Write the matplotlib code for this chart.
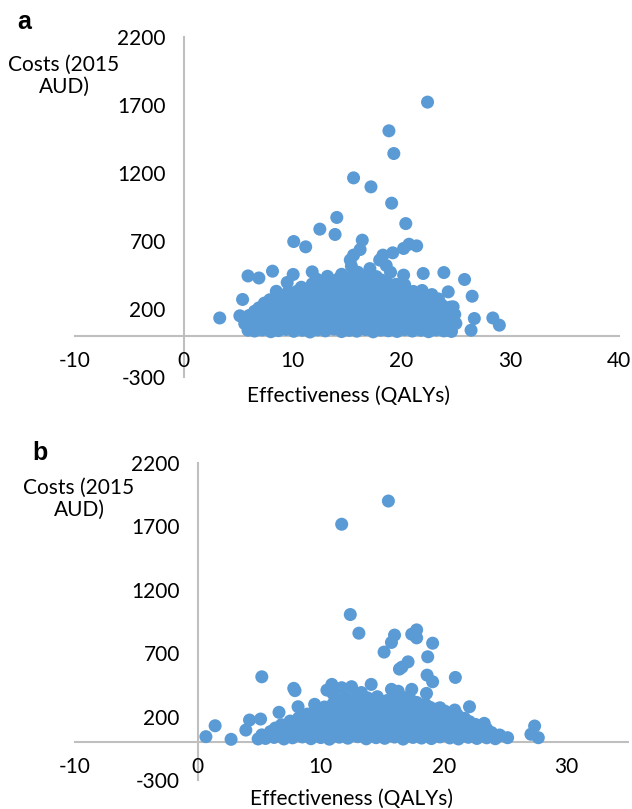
import matplotlib
matplotlib.use("Agg")
import matplotlib.pyplot as plt

plt.rcParams['font.family'] = ['Lato', 'DejaVu Sans']
plt.rcParams['axes.unicode_minus'] = False

dot_color = "#5B9BD5"
axis_color = "#BFBFBF"

# ---------- panel a : (QALYs, cost) ----------
a_outliers = [
    (22.4, 1721), (18.85, 1510), (19.3, 1343), (15.6, 1164), (17.2, 1098),
    (19.1, 978), (14.06, 873), (20.4, 828), (12.5, 787), (13.9, 748),
    (10.1, 696), (11.2, 657), (16.4, 706), (16.2, 637), (15.6, 596),
    (15.3, 560), (18.3, 596), (19.2, 613), (20.2, 645), (20.7, 676),
    (21.4, 664), (18.0, 560), (18.6, 520), (17.1, 497), (15.4, 515),
    (16.0, 470), (3.3, 134), (5.9, 443), (6.9, 428), (8.15, 478),
    (10.05, 454), (9.5, 395), (11.8, 473), (22.0, 461), (23.9, 468),
    (25.8, 417), (26.5, 294), (22.8, 306), (28.4, 134), (29.0, 81),
    (26.7, 130), (26.4, 44), (5.4, 270), (5.15, 150), (5.9, 44),
    (8.5, 330), (10.4, 330), (20.2, 449), (24.3, 326), (24.75, 216),
    (24.6, 35), (13.2, 440), (14.5, 455), (19.0, 470), (12.2, 420),
]
a_cloud = [
    (6.5, 38), (7.2, 46), (8.0, 33), (8.7, 41), (9.4, 50), (10.1, 36), (10.9, 44),
    (11.6, 31), (12.3, 47), (13.0, 39), (13.8, 52), (14.5, 34), (15.2, 43), (15.9, 37),
    (16.7, 49), (17.4, 32), (18.1, 45), (18.8, 40), (19.6, 35), (20.3, 48), (21.0, 38),
    (21.8, 44), (22.5, 33), (23.2, 46), (23.9, 39), (24.4, 42),
    (6.2, 64), (6.9, 70), (7.6, 61), (8.4, 68), (9.1, 72), (9.8, 63), (10.6, 69),
    (11.3, 60), (12.0, 71), (12.8, 65), (13.5, 73), (14.2, 62), (15.0, 67), (15.7, 70),
    (16.4, 61), (17.2, 68), (17.9, 64), (18.6, 72), (19.4, 66), (20.1, 60), (20.8, 69),
    (21.6, 63), (22.3, 71), (23.0, 65), (23.8, 62), (24.6, 68),
    (5.6, 92), (6.3, 101), (7.0, 88), (7.8, 97), (8.5, 105), (9.2, 90), (10.0, 99),
    (10.7, 86), (11.4, 103), (12.1, 94), (12.9, 108), (13.6, 89), (14.3, 98), (15.0, 104),
    (15.8, 91), (16.5, 100), (17.2, 87), (17.9, 106), (18.7, 95), (19.4, 102), (20.1, 89),
    (20.8, 97), (21.6, 104), (22.3, 92), (23.0, 99), (23.7, 88), (24.4, 101), (25.0, 94),
    (5.9, 124), (6.6, 131), (7.4, 120), (8.1, 128), (8.8, 133), (9.6, 122), (10.3, 127),
    (11.0, 119), (11.8, 130), (12.5, 125), (13.2, 134), (14.0, 121), (14.7, 129), (15.4, 132),
    (16.2, 123), (16.9, 128), (17.6, 120), (18.4, 131), (19.1, 126), (19.8, 133), (20.6, 122),
    (21.3, 129), (22.0, 124), (22.8, 130), (23.5, 121), (24.2, 127),
    (6.0, 152), (6.8, 160), (7.5, 147), (8.3, 158), (9.0, 163), (9.7, 149), (10.5, 156),
    (11.2, 165), (11.9, 151), (12.7, 159), (13.4, 146), (14.1, 162), (14.9, 154), (15.6, 168),
    (16.3, 150), (17.0, 157), (17.8, 144), (18.5, 161), (19.2, 153), (20.0, 166), (20.7, 148),
    (21.4, 155), (22.2, 163), (22.9, 150), (23.6, 158), (24.3, 146), (24.9, 160),
    (6.5, 183), (7.3, 190), (8.0, 180), (8.8, 188), (9.5, 193), (10.2, 182), (11.0, 189),
    (11.7, 178), (12.4, 191), (13.2, 185), (13.9, 194), (14.6, 181), (15.4, 187), (16.1, 192),
    (16.8, 179), (17.6, 186), (18.3, 190), (19.0, 183), (19.8, 188), (20.5, 181), (21.2, 192),
    (22.0, 184), (22.7, 189), (23.4, 180), (24.1, 186),
    (6.9, 208), (7.7, 219), (8.4, 212), (9.1, 224), (9.9, 206), (10.6, 217), (11.3, 228),
    (12.1, 210), (12.8, 221), (13.5, 205), (14.3, 226), (15.0, 214), (15.7, 230), (16.5, 209),
    (17.2, 220), (17.9, 212), (18.7, 227), (19.4, 207), (20.1, 218), (20.9, 224), (21.6, 211),
    (22.3, 219), (23.1, 206), (23.8, 222), (24.5, 214),
    (7.4, 243), (8.2, 250), (8.9, 240), (9.7, 248), (10.4, 253), (11.1, 242), (11.9, 249),
    (12.6, 238), (13.3, 251), (14.1, 245), (14.8, 254), (15.5, 241), (16.3, 247), (17.0, 252),
    (17.7, 239), (18.5, 246), (19.2, 250), (19.9, 243), (20.7, 248), (21.4, 240), (22.1, 251),
    (22.9, 244), (23.6, 238),
    (7.9, 268), (8.7, 279), (9.4, 272), (10.2, 285), (10.9, 266), (11.6, 281), (12.4, 274),
    (13.1, 288), (13.8, 270), (14.6, 283), (15.3, 276), (16.0, 290), (16.8, 269), (17.5, 282),
    (18.2, 273), (19.0, 286), (19.7, 267), (20.4, 280), (21.2, 271), (21.9, 278), (22.6, 265),
    (23.4, 274),
    (8.8, 302), (9.9, 309), (10.6, 299), (11.3, 307), (12.1, 312), (12.8, 301), (13.5, 308),
    (14.3, 297), (15.0, 310), (15.7, 304), (16.5, 313), (17.2, 300), (17.9, 306), (18.7, 311),
    (19.4, 298), (20.1, 305), (20.9, 309), (21.6, 302), (22.4, 296),
    (9.6, 328), (10.8, 339), (11.5, 331), (12.2, 345), (13.0, 336), (13.7, 349), (14.4, 330),
    (15.2, 343), (15.9, 352), (16.6, 334), (17.4, 347), (18.1, 338), (18.8, 350), (19.6, 332),
    (20.3, 341), (21.1, 329), (21.9, 336),
    (10.8, 360), (11.9, 366), (12.6, 358), (13.3, 369), (14.1, 362), (14.8, 371), (15.5, 359),
    (16.3, 367), (17.0, 372), (17.7, 361), (18.5, 368), (19.2, 357), (20.0, 363),
    (11.8, 384), (12.9, 396), (13.6, 388), (14.3, 401), (15.1, 392), (15.8, 405), (16.5, 389),
    (17.3, 399), (18.0, 386), (18.7, 394), (19.5, 381), (20.3, 377),
    (13.4, 415), (14.2, 421), (15.0, 413), (15.8, 424), (16.6, 418), (17.4, 422), (18.2, 412),
    (14.6, 436), (15.5, 447), (16.2, 441), (16.9, 452), (17.7, 438),
]

# ---------- panel b ----------
b_outliers = [
    (15.5, 1900), (11.7, 1717), (12.4, 1005), (13.1, 858), (16.0, 843),
    (15.75, 785), (15.15, 709), (17.8, 884), (17.4, 850), (17.8, 821),
    (19.1, 779), (18.7, 672), (17.1, 632), (16.4, 575), (16.6, 590),
    (0.65, 42), (1.4, 128), (2.7, 21), (5.2, 514), (7.8, 423),
    (7.9, 405), (6.6, 234), (5.1, 181), (4.2, 173), (3.9, 94),
    (4.9, 24), (8.15, 278), (9.5, 297), (10.5, 409), (10.9, 454),
    (11.7, 428), (12.5, 436), (14.1, 454), (18.65, 527), (19.1, 475),
    (20.95, 509), (15.75, 415), (16.3, 400), (17.4, 415), (18.6, 383),
    (22.1, 278), (23.3, 147), (24.55, 55), (25.2, 34), (27.4, 126),
    (27.1, 61), (27.7, 34), (13.3, 390), (11.0, 380),
]
b_cloud = [
    (5.5, 28), (6.2, 36), (7.0, 24), (7.7, 33), (8.5, 40), (9.2, 26), (10.0, 35),
    (10.7, 22), (11.5, 38), (12.2, 30), (13.0, 42), (13.7, 25), (14.5, 34), (15.2, 29),
    (16.0, 39), (16.7, 23), (17.5, 36), (18.2, 31), (19.0, 27), (19.7, 40), (20.5, 32),
    (21.2, 24), (22.0, 37), (22.7, 28), (23.5, 33), (24.2, 26),
    (5.2, 56), (5.9, 61), (6.6, 53), (7.4, 59), (8.1, 63), (8.9, 55), (9.6, 60),
    (10.4, 52), (11.1, 62), (11.9, 57), (12.6, 64), (13.4, 54), (14.1, 58), (14.9, 61),
    (15.6, 53), (16.4, 60), (17.1, 56), (17.9, 63), (18.6, 55), (19.4, 59), (20.1, 62),
    (20.9, 54), (21.6, 58), (22.4, 61), (23.1, 53), (23.9, 57), (24.6, 50),
    (5.9, 82), (6.7, 91), (7.4, 78), (8.2, 88), (8.9, 95), (9.7, 80), (10.4, 89),
    (11.2, 76), (11.9, 93), (12.7, 84), (13.4, 97), (14.2, 79), (14.9, 90), (15.7, 86),
    (16.4, 94), (17.2, 77), (17.9, 92), (18.7, 83), (19.4, 96), (20.2, 81), (20.9, 88),
    (21.7, 79), (22.4, 91), (23.2, 85), (23.9, 74),
    (6.3, 110), (7.0, 115), (7.8, 108), (8.5, 114), (9.3, 118), (10.0, 109), (10.8, 113),
    (11.5, 106), (12.3, 117), (13.0, 111), (13.8, 119), (14.5, 107), (15.3, 112), (16.0, 116),
    (16.8, 108), (17.5, 114), (18.3, 110), (19.0, 118), (19.8, 109), (20.5, 113), (21.3, 116),
    (22.0, 107), (22.8, 112), (23.5, 104),
    (6.8, 136), (7.6, 145), (8.3, 131), (9.1, 142), (9.8, 150), (10.6, 134), (11.3, 147),
    (12.1, 139), (12.8, 152), (13.6, 133), (14.3, 144), (15.1, 149), (15.8, 137), (16.6, 146),
    (17.3, 130), (18.1, 143), (18.8, 151), (19.6, 135), (20.3, 141), (21.1, 148), (21.8, 132),
    (22.6, 138),
    (7.5, 165), (8.6, 170), (9.4, 163), (10.1, 169), (10.9, 173), (11.6, 164), (12.4, 168),
    (13.1, 161), (13.9, 172), (14.6, 166), (15.4, 174), (16.1, 162), (16.9, 167), (17.6, 171),
    (18.4, 163), (19.1, 169), (19.9, 165), (20.6, 172), (21.4, 164), (22.1, 160),
    (8.2, 190), (9.0, 199), (9.7, 186), (10.5, 202), (11.2, 193), (12.0, 205), (12.7, 188),
    (13.5, 198), (14.2, 207), (15.0, 191), (15.7, 200), (16.5, 185), (17.2, 196), (18.0, 204),
    (18.7, 189), (19.5, 197), (20.2, 192), (21.0, 201), (21.7, 187),
    (8.9, 220), (9.8, 225), (10.6, 218), (11.3, 224), (12.1, 228), (12.8, 219), (13.6, 223),
    (14.3, 216), (15.1, 227), (15.8, 221), (16.6, 229), (17.3, 217), (18.1, 222), (18.8, 226),
    (19.6, 218), (20.3, 224), (21.1, 215),
    (9.6, 246), (10.4, 255), (11.1, 242), (11.9, 258), (12.6, 249), (13.4, 261), (14.1, 244),
    (14.9, 256), (15.6, 251), (16.4, 263), (17.1, 245), (17.9, 254), (18.6, 248), (19.4, 259),
    (20.1, 243), (20.9, 252),
    (10.3, 276), (11.4, 281), (12.2, 274), (12.9, 280), (13.7, 284), (14.4, 275), (15.2, 279),
    (15.9, 272), (16.7, 283), (17.4, 277), (18.2, 285), (18.9, 273), (19.7, 270),
    (11.0, 302), (11.8, 311), (12.5, 298), (13.3, 314), (14.0, 305), (14.8, 317), (15.5, 300),
    (16.3, 309), (17.0, 303), (17.8, 312), (18.5, 299),
    (11.5, 328), (12.3, 333), (13.1, 326), (13.9, 332), (14.7, 336), (15.4, 327), (16.2, 331),
    (17.4, 325),
    (12.0, 352), (12.9, 361), (13.8, 348), (14.6, 357), (16.0, 350), (17.1, 356),
]

y_ticks = [-300, 200, 700, 1200, 1700, 2200]
a_x_ticks = [-10, 0, 10, 20, 30, 40]
b_x_ticks = [-10, 0, 10, 20, 30]

fig = plt.figure(figsize=(6.32, 8.09), dpi=100)
ax_a = fig.add_axes([0.1187, 0.534, 0.8608, 0.4203])
ax_b = fig.add_axes([0.1187, 0.0358, 0.875, 0.3919])


def style_axis(ax, xlim, xticks):
    ax.set_xlim(*xlim)
    ax.set_ylim(-300, 2200)
    ax.set_xticks(xticks)
    ax.set_yticks(y_ticks)
    for side in ["top", "right"]:
        ax.spines[side].set_visible(False)
    for side in ["left", "bottom"]:
        ax.spines[side].set_position(("data", 0))
        ax.spines[side].set_color(axis_color)
        ax.spines[side].set_linewidth(1.5)
        ax.spines[side].set_zorder(0)
    ax.tick_params(axis="both", length=0, labelsize=15, colors="black")
    ax.tick_params(axis="x", pad=11)
    ax.tick_params(axis="y", pad=13)
    ax.patch.set_visible(False)


for ax, outl, cloud, xlim, xticks in [
    (ax_a, a_outliers, a_cloud, (-10, 40), a_x_ticks),
    (ax_b, b_outliers, b_cloud, (-10, 35), b_x_ticks),
]:
    pts = cloud + outl
    xs = [p[0] for p in pts]
    ys = [p[1] for p in pts]
    ax.scatter(xs, ys, s=88, color=dot_color, edgecolors="none", zorder=3, clip_on=False)
    style_axis(ax, xlim, xticks)

# axis titles
fig.text(64 / 632, 1 - 76 / 809, "Costs (2015\nAUD)", ha="center", va="center",
         fontsize=15, linespacing=1.15)
fig.text(79 / 632, 1 - 499 / 809, "Costs (2015\nAUD)", ha="center", va="center",
         fontsize=15, linespacing=1.15)
fig.text(348 / 632, 1 - 396 / 809, "Effectiveness (QALYs)", ha="center", va="center", fontsize=15)
fig.text(351 / 632, 1 - 799 / 809, "Effectiveness (QALYs)", ha="center", va="center", fontsize=15)

# panel letters
fig.text(24 / 632, 1 - 22 / 809, "a", ha="center", va="center", fontsize=18,
         fontweight="bold", family="Liberation Sans")
fig.text(40 / 632, 1 - 453 / 809, "b", ha="center", va="center", fontsize=18,
         fontweight="bold", family="Liberation Sans")

fig.savefig("out.png", dpi=100)
